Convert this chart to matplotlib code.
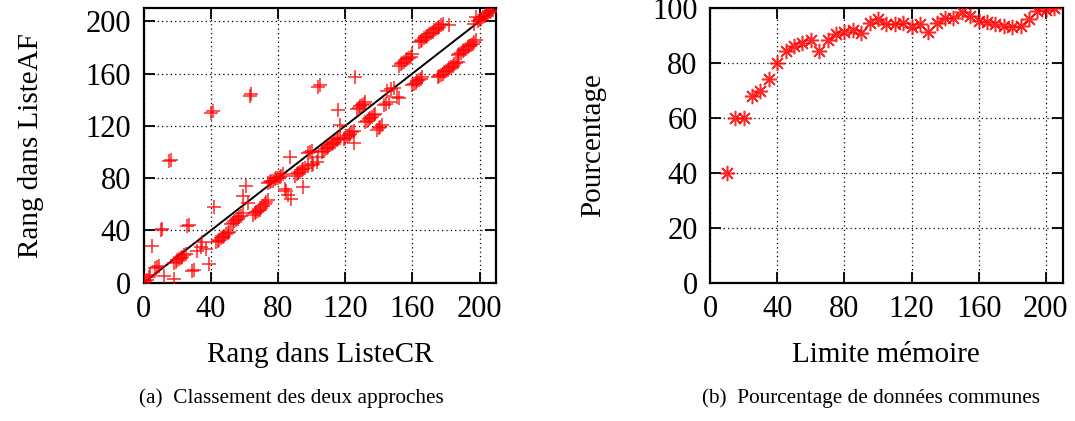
import matplotlib
matplotlib.use("Agg")
import matplotlib.pyplot as plt
import numpy as np

plt.rcParams['font.family'] = ['Liberation Serif', 'DejaVu Serif']

# (a) rank in ListeCR vs rank in ListeAF
rang_cr = [1, 2, 3, 4, 7, 8, 9, 12, 18,
           5, 10, 11, 26, 27, 15, 16, 40, 41, 42, 63, 64, 104, 105, 126, 116, 117, 182,
           29, 30, 39, 32, 34, 35, 37,
           18, 19, 20, 21, 22, 23, 24, 25,
           43, 44, 45, 46, 47, 48, 49, 50, 51,
           52, 53, 54, 55, 56, 57, 58, 59,
           59, 61, 62,
           65, 66, 67, 68, 69, 70,
           71, 72, 73, 74,
           74, 75, 76, 77, 78, 79, 80, 81, 82, 83,
           84, 85, 86, 88, 95,
           90, 91, 92, 93, 94, 95, 96, 98, 100, 101, 103,
           98, 99, 100, 104, 87,
           106, 107, 108, 109, 110, 111, 112, 113, 114, 115, 116, 117,
           119, 120, 121, 122, 123, 124, 125, 125,
           127, 128, 129, 130, 131, 132,
           132, 133, 134, 135, 136, 137, 138,
           139, 140, 141, 142,
           143, 144, 145, 146, 147, 149, 151, 152,
           152, 153, 154, 155, 156, 157, 158, 159, 160,
           160, 161, 162, 163, 164, 165, 166,
           164, 165, 166, 167, 168, 169, 170, 171, 172, 173, 174, 175, 176, 177, 178,
           175, 176, 177, 178, 179, 180, 181, 182, 183, 184, 185, 186, 187,
           187, 188, 189, 190, 191, 192, 193, 194, 195, 196, 197, 198,
           197, 198, 199, 200, 201, 202, 203, 204, 205, 206, 207, 208]
rang_af = [1, 2, 4, 6, 11, 12, 13, 5, 3,
           28, 40, 41, 43, 44, 93, 94, 130, 131, 58, 143, 144, 150, 151, 157, 132, 121, 197,
           9, 10, 14, 24, 27, 31, 26,
           15, 16, 17, 18, 19, 20, 21, 22,
           31, 32, 33, 34, 35, 36, 37, 38, 39,
           45, 46, 47, 48, 49, 50, 51, 53,
           66, 74, 61,
           52, 53, 54, 55, 56, 57,
           59, 60, 62, 63,
           76, 77, 78, 78, 79, 80, 80, 81, 82, 83,
           72, 70, 67, 64, 73,
           82, 83, 84, 85, 86, 87, 88, 89, 90, 91, 92,
           99, 100, 101, 96, 96,
           100, 101, 102, 103, 104, 105, 106, 107, 108, 109, 110, 111,
           110, 111, 112, 113, 114, 115, 116, 107,
           133, 134, 135, 136, 137, 138,
           123, 124, 125, 126, 127, 128, 129,
           117, 118, 119, 121,
           136, 137, 147, 138, 148, 149, 142, 141,
           166, 167, 168, 169, 170, 171, 172, 173, 175,
           151, 152, 153, 154, 155, 156, 157,
           184, 185, 186, 187, 188, 189, 190, 191, 192, 193, 194, 195, 196, 197, 198,
           157, 158, 159, 160, 161, 162, 163, 164, 165, 166, 167, 168, 169,
           174, 175, 176, 177, 178, 179, 180, 181, 182, 183, 184, 186,
           198, 203, 200, 201, 202, 203, 204, 205, 206, 207, 208, 209]

# (b) share of common data vs memory limit
limite = [10, 15, 20, 25, 30, 35, 40, 45, 50, 55, 60, 65, 70, 75, 80, 85, 90, 95, 100,
          105, 110, 115, 120, 125, 130, 135, 140, 145, 150, 155, 160, 165, 170, 175,
          180, 185, 190, 195, 200, 205]
pourcentage = [40, 60, 60, 68, 70, 74.3, 80, 84.4, 86.2, 87.4, 88.3, 84.4, 88.5, 90.7,
               91.3, 91.9, 91, 94.5, 95.9, 94.3, 94.3, 94.7, 93.3, 94.3, 91.3, 94.5,
               96.5, 96.5, 98.5, 97.3, 95.5, 94.9, 94.1, 93.7, 93.3, 93.7, 96.1, 98.9,
               99.2, 100]

ticks = [0, 40, 80, 120, 160, 200]

fig = plt.figure(figsize=(10.75, 4.21), dpi=100)
ax1 = fig.add_axes([0.1337, 0.3285, 0.328, 0.652])
ax2 = fig.add_axes([0.6605, 0.3285, 0.328, 0.652])

def style(ax):
    ax.grid(True, color='black', linestyle=(0, (1, 2.5)), linewidth=0.9)
    ax.set_axisbelow(True)
    ax.tick_params(direction='in', length=8, width=1.3, top=True, right=True,
                   labelsize=22, pad=9)
    for s in ax.spines.values():
        s.set_linewidth(1.6)

ax1.plot([0, 210], [0, 210], color='black', lw=1.4, zorder=2)
ax1.plot(rang_cr, rang_af, linestyle='none', marker='+', color='red',
         ms=10, mew=1.1, alpha=0.85, zorder=3)
ax1.set_xlim(0, 210)
ax1.set_ylim(0, 210)
ax1.set_xticks(ticks)
ax1.set_yticks(ticks)
style(ax1)
ax1.set_xlabel('Rang dans ListeCR', fontsize=21, labelpad=13)
ax1.set_ylabel('Rang dans ListeAF', fontsize=21, labelpad=30)

ax2.plot(limite, pourcentage, linestyle='none', marker=(8, 2, 0), color='red',
         ms=11, mew=1.1, alpha=0.85, zorder=3)
ax2.set_xlim(0, 210)
ax2.set_ylim(0, 100)
ax2.set_xticks(ticks)
ax2.set_yticks([0, 20, 40, 60, 80, 100])
style(ax2)
ax2.set_xlabel('Limite mémoire', fontsize=21, labelpad=13)
ax2.set_ylabel('Pourcentage', fontsize=21, labelpad=33)

fig.text(0.271, 0.055, '(a)  Classement des deux approches', fontsize=15.3,
         ha='center', va='center')
fig.text(0.81, 0.055, '(b)  Pourcentage de données communes', fontsize=15.3,
         ha='center', va='center')

fig.savefig('out.png', dpi=100)
